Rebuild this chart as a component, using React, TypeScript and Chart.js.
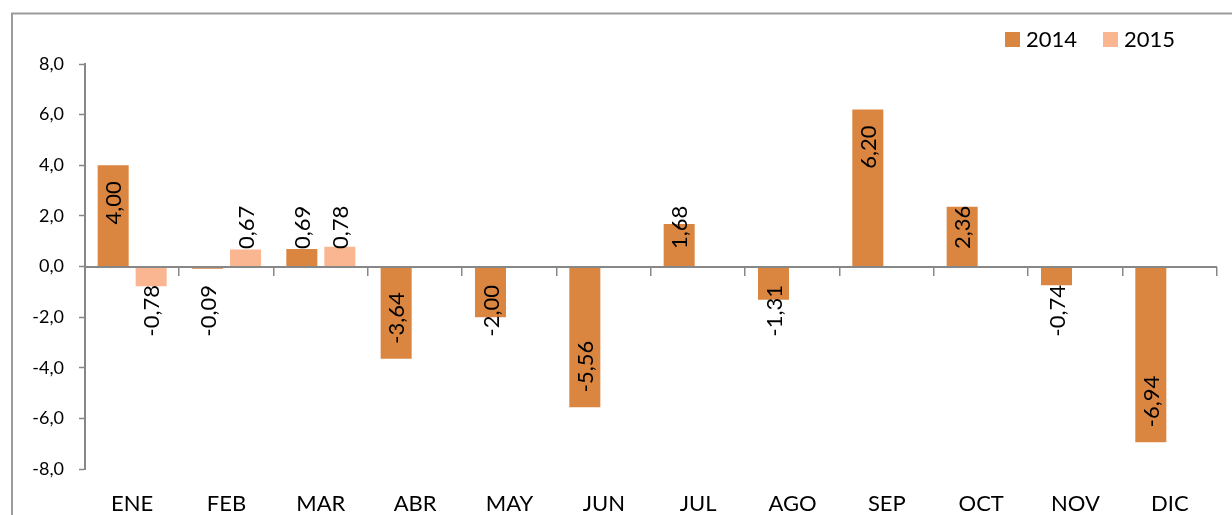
import React, { useEffect, useRef } from "react";
import { Chart, registerables } from "chart.js";

Chart.register(...registerables);

const categories = ["ENE", "FEB", "MAR", "ABR", "MAY", "JUN", "JUL", "AGO", "SEP", "OCT", "NOV", "DIC"];
const series2014: (number | null)[] = [4.0, -0.09, 0.69, -3.64, -2.0, -5.56, 1.68, -1.31, 6.2, 2.36, -0.74, -6.94];
const series2015: (number | null)[] = [-0.78, 0.67, 0.78, null, null, null, null, null, null, null, null, null];
const seriesNames = ["2014", "2015"];
const seriesColors = ["#DA8540", "#F9B690"];
const yMin = -8;
const yMax = 8;
const yStep = 2;

const FONT = "Lato";
const AXIS_COLOR = "#878787";

const fmt = (v: number, d: number) => v.toFixed(d).replace(".", ",");

const framePlugin = {
  id: "frame",
  beforeDraw(chart: any) {
    const ctx = chart.ctx;
    ctx.save();
    ctx.fillStyle = "#ffffff";
    ctx.fillRect(0, 0, chart.width, chart.height);
    ctx.strokeStyle = "#9b9b9b";
    ctx.lineWidth = 2;
    ctx.strokeRect(12, 13.5, 1400, 700);
    ctx.restore();
  },
};

const axisPlugin = {
  id: "zeroAxis",
  afterDatasetsDraw(chart: any) {
    const ctx = chart.ctx;
    const { left, right } = chart.chartArea;
    const y = chart.scales.y;
    const x = chart.scales.x;
    const zy = Math.round(y.getPixelForValue(0));
    ctx.save();
    ctx.strokeStyle = AXIS_COLOR;
    ctx.lineWidth = 2;
    ctx.beginPath();
    ctx.moveTo(left, zy);
    ctx.lineTo(right, zy);
    ctx.stroke();
    ctx.lineWidth = 1.5;
    const n = categories.length;
    const w = (right - left) / n;
    for (let i = 1; i <= n; i++) {
      const px = Math.round(left + i * w) - 0.25;
      ctx.beginPath();
      ctx.moveTo(px, zy);
      ctx.lineTo(px, zy + 9);
      ctx.stroke();
    }
    void x;

    // data labels
    ctx.font = `22px ${FONT}`;
    ctx.fillStyle = "#000000";
    ctx.textAlign = "center";
    ctx.textBaseline = "middle";
    chart.data.datasets.forEach((ds: any, di: number) => {
      const meta = chart.getDatasetMeta(di);
      meta.data.forEach((el: any, i: number) => {
        const v = ds.data[i];
        if (v === null || v === undefined) return;
        const txt = fmt(v, 2);
        const tw = ctx.measureText(txt).width;
        const base = el.base;
        const len = Math.abs(el.y - base);
        let cy;
        if (v >= 0) {
          const off = Math.max(17, len - 16 - tw);
          cy = base - off - tw / 2;
        } else {
          const off = Math.max(18, len - 15 - tw);
          cy = base + off + tw / 2;
        }
        ctx.save();
        ctx.translate(el.x + 1, cy);
        ctx.rotate(-Math.PI / 2);
        ctx.fillText(txt, 0, 0);
        ctx.restore();
      });
    });
    ctx.restore();
  },
  afterDraw(chart: any) {
    // legend
    const ctx = chart.ctx;
    ctx.save();
    ctx.font = `22px ${FONT}`;
    ctx.textBaseline = "middle";
    ctx.textAlign = "left";
    const startXs = [1005, 1103];
    seriesNames.forEach((name, i) => {
      const bx = startXs[i];
      ctx.fillStyle = seriesColors[i];
      ctx.fillRect(bx, 32, 15, 15);
      ctx.fillStyle = "#000000";
      ctx.fillText(name, bx + 21, 40);
    });
    ctx.restore();
  },
};

export default function App() {
  const ref = useRef<HTMLCanvasElement | null>(null);

  useEffect(() => {
    if (!ref.current) return;
    const chart = new Chart(ref.current, {
      type: "bar",
      data: {
        labels: categories,
        datasets: [
          {
            label: seriesNames[0],
            data: series2014,
            backgroundColor: seriesColors[0],
            categoryPercentage: 0.806,
            barPercentage: 0.816,
          },
          {
            label: seriesNames[1],
            data: series2015,
            backgroundColor: seriesColors[1],
            categoryPercentage: 0.806,
            barPercentage: 0.816,
          },
        ],
      },
      options: {
        animation: false,
        responsive: false,
        maintainAspectRatio: false,
        layout: { padding: { top: 64, right: 15, bottom: 0, left: 0 } },
        plugins: {
          legend: { display: false },
          tooltip: { enabled: false },
        },
        scales: {
          x: {
            grid: { display: false, drawTicks: false },
            border: { display: false },
            ticks: {
              color: "#000000",
              font: { family: FONT, size: 22 },
              padding: 22,
              maxRotation: 0,
              autoSkip: false,
            },
            afterFit: (s: any) => {
              s.height = 46;
            },
          },
          y: {
            min: yMin,
            max: yMax,
            grid: {
              color: "rgba(0,0,0,0)",
              tickColor: AXIS_COLOR,
              tickLength: 6,
              tickWidth: 1.5,
              drawOnChartArea: false,
            },
            border: { display: true, color: AXIS_COLOR, width: 2 },
            ticks: {
              stepSize: yStep,
              color: "#000000",
              font: { family: FONT, size: 18 },
              padding: 15,
              callback: (v: any) => fmt(Number(v), 1),
            },
            afterFit: (s: any) => {
              s.width = 85;
            },
          },
        },
      },
      plugins: [framePlugin, axisPlugin],
    });
    return () => chart.destroy();
  }, []);

  return (
    <div style={{ position: "fixed", left: 0, top: 0, width: 1232, height: 515, background: "#fff" }}>
      <canvas ref={ref} width={1232} height={515} style={{ width: 1232, height: 515, display: "block" }} />
    </div>
  );
}
